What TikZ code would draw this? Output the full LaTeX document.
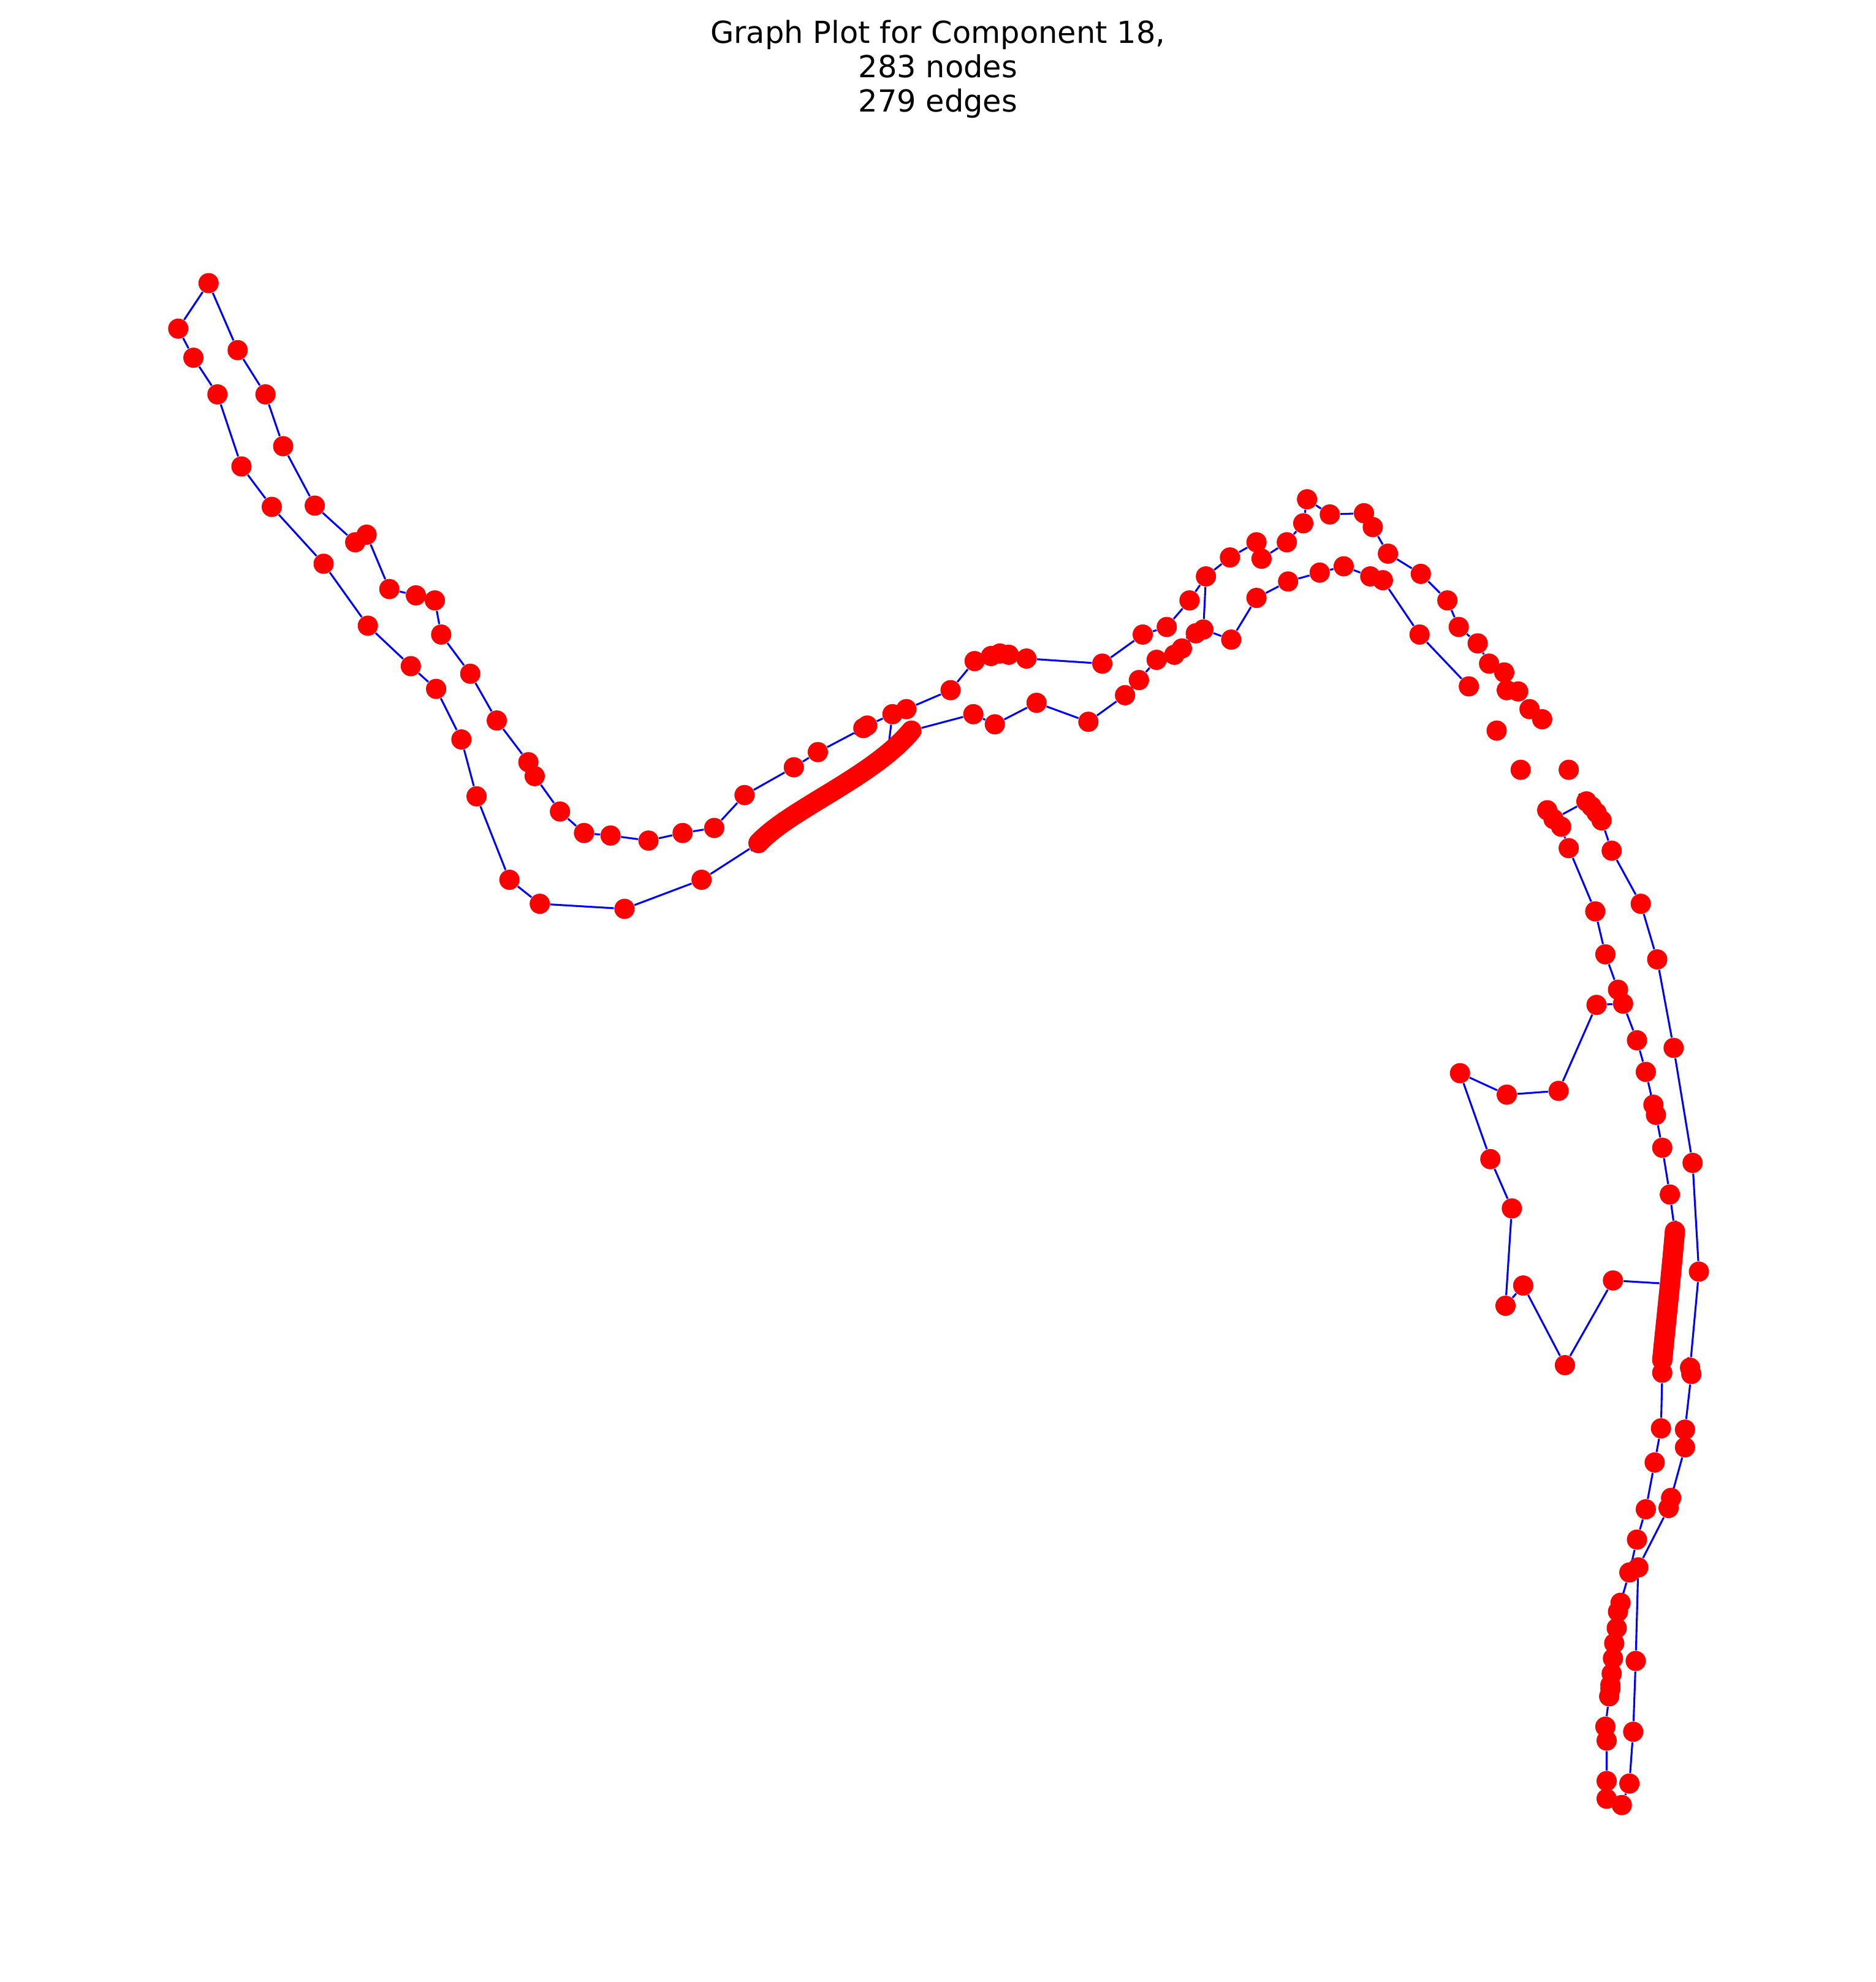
\documentclass[tikz,border=0pt]{standalone}
\usepackage{fontspec}
\setmainfont{DejaVu Sans}
\pgfdeclarelayer{bg}
\pgfsetlayers{bg,main}
\begin{document}
\begin{tikzpicture}[x=0.5pt,y=-0.5pt,
  dot/.style={circle,fill=red,draw=none,inner sep=0pt,minimum size=8pt},
  edge/.style={blue,line width=0.75pt},
  ttl/.style={anchor=base,inner sep=0pt,font=\fontsize{12}{13.6}\selectfont}]
\begin{pgfonlayer}{bg}
\path[use as bounding box,fill=white] (0,0) rectangle (1484,1568);
\end{pgfonlayer}
% title
\node[ttl] (t1) at (742,34) {Graph Plot for Component 18,};
\node[ttl] (t2) at (742,61.3) {283 nodes};
\node[ttl] (t3) at (742,88.6) {279 edges};
% top-left group
\foreach \n/\x/\y in {L1/165/224,L2/141/260,L3/188/277,L4/153/283,L5/210/312,L6/172/312,
 L7/224/353,L8/191/369,L9/249/400,L10/215/401,L11/281/429,L12/290/423,L13/256/446,
 L14/308/466,L15/329/471,L16/344/475,L17/291/495,L18/349/502,L19/325/527,L20/372/533,
 L21/345/545,L22/393/570,L23/365/585,L24/418/603,L25/423/614,L26/377/630,L27/443/642,
 L28/462/659,L29/483/661,L30/513/665,L31/540/659,L32/565/655,L33/589/629,L34/403/696,
 L35/427/715,L36/494/719,L37/555/696}
 {\node[dot] (\n) at (\x,\y) {};}
% middle upper group
\foreach \n/\x/\y in {M1/628/607,M2/647/595,M3/683/576,M4/686/574,M5/706/565,M6/717/561,
 M7/752/546,M8/771/523,M9/784/519,M10/791/517,M11/798/518,M12/812/521,M13/872/525,
 M14/904/502,M15/923/496,M16/941/475,M17/954/456,M18/973/441,M19/994/429,M20/998/442,
 M21/1018/429,M22/1031/414,M23/1034/395,M24/1052/407,M25/1079/406,M26/1086/417,
 M27/1098/438,M28/1124/454,M29/1145/475,M30/1154/496,M31/1169/509,M32/1178/525,
 M33/1190/532,M34/1192/546,M35/1201/547,M36/1210/561,M37/1220/569,M38/1184/578,
 M39/1203/609,M40/1241/609}
 {\node[dot] (\n) at (\x,\y) {};}
% middle lower group
\foreach \n/\x/\y in {N1/770/565,N2/787/573,N3/820/556,N4/861/571,N5/890/550,N6/901/538,
 N7/915/522,N8/929/518,N9/935/513,N10/946/501,N11/952/498,N12/974/506,N13/994/473,
 N14/1019/460,N15/1044/453,N16/1063/448,N17/1084/456,N18/1094/459,N19/1123/502,
 N20/1162/543}
 {\node[dot] (\n) at (\x,\y) {};}
% right outer group
\foreach \n/\x/\y in {R1/1224/641,R2/1229/648,R3/1235/654,R4/1241/671,C1/1255/634,
 C2/1259/638,C3/1263/643,C4/1267/649,R5/1275/673,R6/1298/715,R7/1311/759,R8/1324/829,
 R9/1339/920,R10/1344/1006,R11/1337/1082,R12/1338/1087,R13/1333/1131,R14/1333/1145,
 R15/1322/1185,R16/1320/1193,R17/1296/1240,R18/1294/1314,R19/1292/1370,R20/1289/1411,
 R21/1283/1428}
 {\node[dot] (\n) at (\x,\y) {};}
% right inner group
\foreach \n/\x/\y in {S1/1262/721,S2/1270/755,S3/1280/783,S4/1284/794,S5/1263/795,
 S6/1295/823,S7/1302/848,S8/1308/874,S9/1310/882,S10/1315/908,S11/1321/945,
 S12/1315/1086,S13/1314/1130,S14/1309/1157,S15/1302/1194,S16/1295/1218,S17/1289/1244,
 S18/1282/1268,S19/1280/1275,S20/1279/1288,S21/1277/1300,S22/1276/1312,S23/1275/1324,
 S24/1274/1333,S25/1274/1336,S26/1273/1342,S27/1270/1366,S28/1271/1377,S29/1271/1409,
 S30/1271/1423}
 {\node[dot] (\n) at (\x,\y) {};}
% branch group
\foreach \n/\x/\y in {B1/1155/849,B2/1192/866,B3/1233/863,B4/1179/917,B5/1196/956,
 B6/1191/1033,B7/1205/1017,B8/1238/1080,B9/1276/1013}
 {\node[dot] (\n) at (\x,\y) {};}
% dense chains
\path (600,667) .. controls (625,640) and (690,615) .. (721,578)
  foreach \i in {0,...,69} {node[dot,pos=\i/69] (D\i) {}};
\path (1325,974) .. controls (1322,1010) and (1318,1045) .. (1315,1076)
  foreach \i in {0,...,51} {node[dot,pos=\i/51] (V\i) {}};
% edges
\begin{pgfonlayer}{bg}
\draw[edge] (L1) -- (L2) -- (L4) -- (L6) -- (L8) -- (L10) -- (L13) -- (L17) -- (L19)
  -- (L21) -- (L23) -- (L26) -- (L34) -- (L35) -- (L36) -- (L37) -- (D0);
\draw[edge] (L1) -- (L3) -- (L5) -- (L7) -- (L9) -- (L11) -- (L12) -- (L14) -- (L15)
  -- (L16) -- (L18) -- (L20) -- (L22) -- (L24) -- (L25) -- (L27) -- (L28) -- (L29)
  -- (L30) -- (L31) -- (L32) -- (L33) -- (M1);
\draw[edge] (M1) -- (M2) -- (M3) -- (M4) -- (M5) -- (M6) -- (M7) -- (M8) -- (M9)
  -- (M10) -- (M11) -- (M12) -- (M13) -- (M14) -- (M15) -- (M16) -- (M17) -- (M18)
  -- (M19) -- (M20) -- (M21) -- (M22) -- (M23) -- (M24) -- (M25) -- (M26) -- (M27)
  -- (M28) -- (M29) -- (M30) -- (M31) -- (M32);
\draw[edge] (M5) -- (D57);
\foreach \i [count=\j from 1] in {0,...,68} {\draw[edge] (D\i) -- (D\j);}
\draw[edge] (D69) -- (N1) -- (N2) -- (N3) -- (N4) -- (N5) -- (N6) -- (N7) -- (N8)
  -- (N9) -- (N10) -- (N11) -- (N12) -- (N13) -- (N14) -- (N15) -- (N16) -- (N17)
  -- (N18) -- (N19) -- (N20);
\draw[edge] (N11) -- (M17);
\draw[edge] (R1) -- (R2) -- (R3) -- (R4);
\draw[edge] (R2) -- (C1) -- (C2) -- (C3) -- (C4) -- (R5) -- (R6) -- (R7) -- (R8)
  -- (R9) -- (R10) -- (R11) -- (R12) -- (R13) -- (R14) -- (R15) -- (R16) -- (R17)
  -- (R18) -- (R19) -- (R20) -- (R21);
\draw[edge] (R4) -- (S1) -- (S2) -- (S3) -- (S4) -- (S6) -- (S7) -- (S8) -- (S9)
  -- (S10) -- (S11) -- (V0);
\foreach \i [count=\j from 1] in {0,...,50} {\draw[edge] (V\i) -- (V\j);}
\draw[edge] (V51) -- (S12) -- (S13) -- (S14) -- (S15) -- (S16) -- (S17) -- (S18)
  -- (S19) -- (S20) -- (S21) -- (S22) -- (S23) -- (S24) -- (S25) -- (S26) -- (S27)
  -- (S28) -- (S29) -- (S30) -- (R21);
\draw[edge] (S4) -- (S5) -- (B3) -- (B2) -- (B1) -- (B4) -- (B5) -- (B6) -- (B7)
  -- (B8) -- (B9) -- (V20);
\end{pgfonlayer}
\end{tikzpicture}
\end{document}
